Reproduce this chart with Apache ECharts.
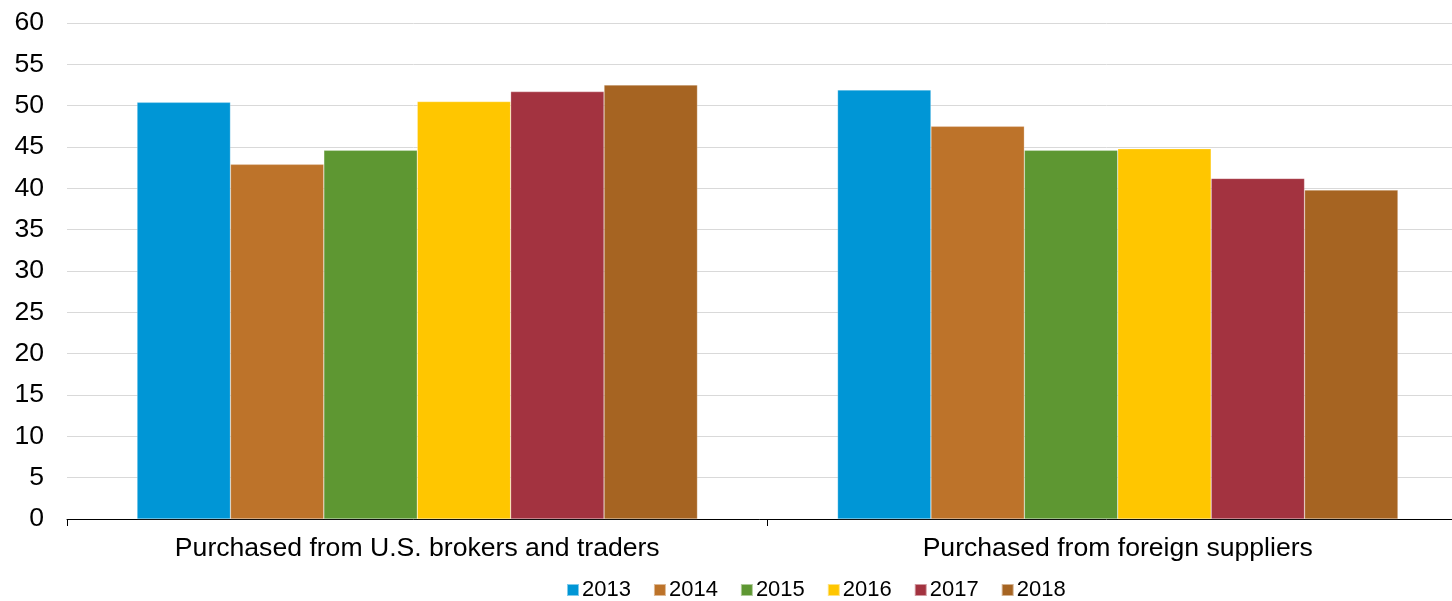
<!DOCTYPE html>
<html>
<head>
<meta charset="utf-8">
<script src="https://cdn.jsdelivr.net/npm/echarts@6/dist/echarts.min.js"></script>
<style>
	html, body { margin: 0; padding: 0; background: #fff; }
	#main { width: 1452px; height: 601px; }
</style>
</head>
<body>
<div id="main"></div>
<script>
var categories = ['Purchased from U.S. brokers and traders', 'Purchased from foreign suppliers'];
var years = ['2013', '2014', '2015', '2016', '2017', '2018'];
var v2013 = [50.4, 51.9];
var v2014 = [42.9, 47.5];
var v2015 = [44.6, 44.6];
var v2016 = [50.5, 44.8];
var v2017 = [51.7, 41.2];
var v2018 = [52.5, 39.8];
var colors = ['#0096d6', '#bd732a', '#5e9732', '#ffc600', '#a33340', '#a66422'];

var values = [v2013, v2014, v2015, v2016, v2017, v2018];

//柱状图系列
var series = years.map(function(y, i){
	return {
		name : y,
		type : 'bar',
		data : values[i],
		barGap : '0%',
		barCategoryGap : '20%',
		itemStyle : {
			color : colors[i],
			borderColor : 'rgba(255,255,255,0.5)',
			borderWidth : 0.5
		}
	};
});

var chart = echarts.init(document.getElementById('main'));
chart.setOption({
	animation : false,
	textStyle : { fontFamily : 'Liberation Sans, Arial, sans-serif' },
	grid : {
		left : 67,
		top : 23,
		width : 1401,
		height : 496,
		containLabel : false,
		outerBoundsMode : 'none'
	},
	legend : {
		top : 574,
		left : 561,
		itemWidth : 12,
		itemHeight : 12,
		itemGap : 22,
		icon : 'rect',
		textStyle : { fontSize : 22, color : '#000', padding : [0, 0, 0, -2] },
		data : years
	},
	xAxis : {
		type : 'category',
		data : categories,
		axisLine : { lineStyle : { color : '#000', width : 1 } },
		axisTick : { show : true, length : 7, lineStyle : { color : '#000' } },
		axisLabel : { fontSize : 26.6, color : '#000', margin : 16 }
	},
	yAxis : {
		type : 'value',
		min : 0,
		max : 60,
		interval : 5,
		axisLine : { show : false },
		axisTick : { show : false },
		axisLabel : { fontSize : 26.6, color : '#000', margin : 23 },
		splitLine : { lineStyle : { color : '#d9d9d9', width : 1 } }
	},
	series : series
});
</script>
</body>
</html>
